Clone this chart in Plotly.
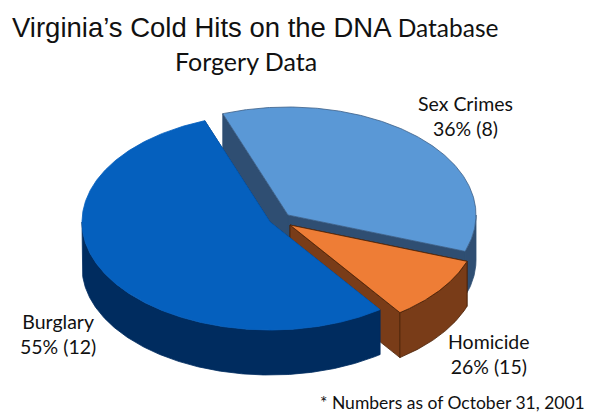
import numpy as np
import plotly.graph_objects as go

# Data
categories = ["Sex Crimes", "Homicide", "Burglary"]
slice_shares = [36.1, 9.6, 54.3]    # drawn share of the disc, in percent
label_percents = [36, 26, 55]       # percentages printed on the labels
label_counts = [8, 15, 12]

title_main = "Virginia’s Cold Hits on the DNA"
title_tail = "Database"
subtitle = "Forgery Data"
footnote = "* Numbers as of October 31, 2001"

# Styling
top_colors = ["#5a98d6", "#ee7d36", "#0560be"]
side_colors = ["#2f4e72", "#793c18", "#002c5f"]
edge_colors = ["#3c5f88", "#4a2208", "#0560be"]
apexes = [(288, 215), (290, 225), (270, 222)]
label_xy = [(465, 116), (489, 354), (58, 334)]
RX, RY, DEPTH = 188, 108, 45
START_DEG = 339.7   # clockwise from 12 o'clock, where the first slice begins
LABEL_FONT = "Lato"


def arc(cx, cy, a0, a1, dy=0.0):
    t = np.radians(np.linspace(a0, a1, max(int(abs(a1 - a0)) * 2, 2)))
    return cx + RX * np.sin(t), cy - RY * np.cos(t) + dy


def poly(fig, x, y, fill, edge, width=0.8):
    fig.add_trace(go.Scatter(
        x=list(x) + [x[0]], y=list(y) + [y[0]], mode="lines", fill="toself",
        fillcolor=fill, line=dict(color=edge, width=width),
        hoverinfo="skip", showlegend=False))


fig = go.Figure()
fractions = np.array(slice_shares, dtype=float) / sum(slice_shares)
a = START_DEG
for i, name in enumerate(categories):
    a0, a1 = a, a + fractions[i] * 360.0
    a = a1
    cx, cy = apexes[i]
    tx, ty = arc(cx, cy, a0, a1)
    top_x = np.r_[cx, tx]
    top_y = np.r_[cy, ty]
    wall_edge = side_colors[i] if i != 1 else edge_colors[i]
    # cut walls
    for ex, ey in ((tx[0], ty[0]), (tx[-1], ty[-1])):
        poly(fig, [cx, ex, ex, cx], [cy, ey, ey + DEPTH, cy + DEPTH],
             side_colors[i], wall_edge)
    # outer rim: only the part facing the viewer (90 to 270 degrees)
    for shift in (-360, 0):
        lo = max(a0 + shift, 90)
        hi = min(a1 + shift, 270)
        if hi > lo:
            rx_, ry_ = arc(cx, cy, lo, hi)
            poly(fig, np.r_[rx_, rx_[::-1]], np.r_[ry_, ry_[::-1] + DEPTH],
                 side_colors[i], wall_edge)
    poly(fig, top_x, top_y, top_colors[i], edge_colors[i])

annotations = [
    dict(x=10, y=27, xanchor="left", yanchor="middle", showarrow=False,
         text=(f"<span style='font-family:Liberation Sans;font-size:27.5px'>{title_main}</span> "
               f"<span style='font-family:{LABEL_FONT};font-size:24.5px'>{title_tail}</span>"),
         font=dict(color="#111111", family="Liberation Sans", size=27.5)),
    dict(x=246, y=61, xanchor="center", yanchor="middle", showarrow=False, text=subtitle,
         font=dict(color="#111111", family=LABEL_FONT, size=25)),
    dict(x=452, y=402, xanchor="center", yanchor="middle", showarrow=False, text=footnote,
         font=dict(color="#111111", family=LABEL_FONT, size=17.5)),
]
for name, pct, cnt, (lx, ly) in zip(categories, label_percents, label_counts, label_xy):
    annotations.append(dict(
        x=lx, y=ly, xanchor="center", yanchor="middle", showarrow=False, align="center",
        text=f"{name}<br>{pct}% ({cnt})",
        font=dict(color="#111111", family=LABEL_FONT, size=19.5)))

hidden = dict(visible=False, fixedrange=True)
fig.update_layout(
    width=610, height=412, margin=dict(l=0, r=0, t=0, b=0),
    paper_bgcolor="white", plot_bgcolor="white", showlegend=False,
    xaxis=dict(range=[0, 610], **hidden),
    yaxis=dict(range=[412, 0], **hidden),
    annotations=annotations)
fig.write_html("out.html", config=dict(displayModeBar=False),
               post_script="document.body.style.margin='0';")
